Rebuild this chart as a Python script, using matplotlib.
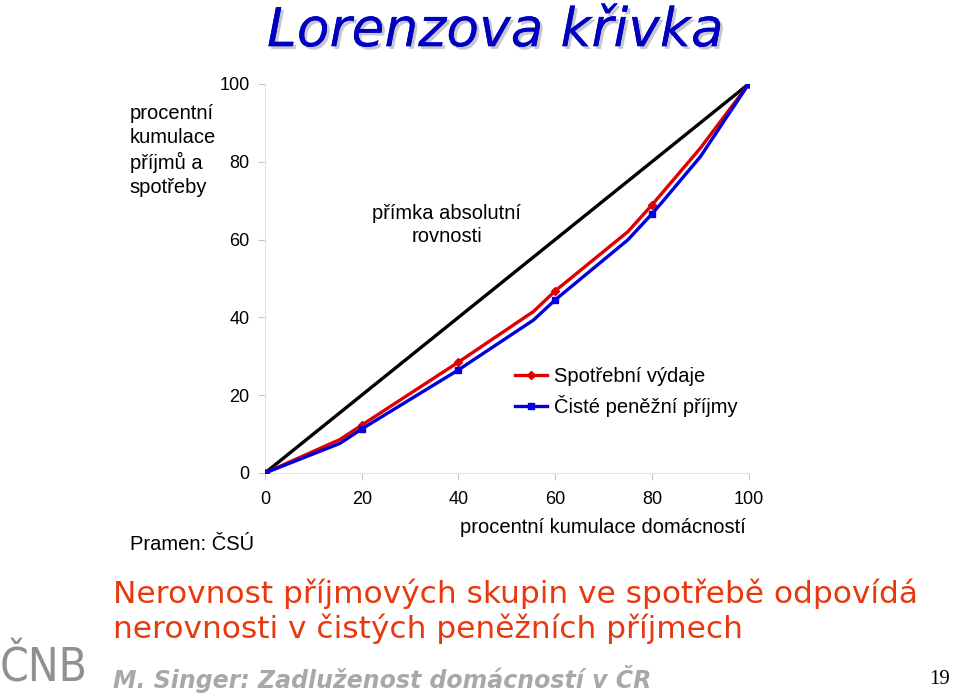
import matplotlib.pyplot as plt
from matplotlib import patheffects as pe

# Lorenz curve data (percent cumulation)
equal_x = [0, 100]
equal_y = [0, 100]

spend_x = [0, 15.5, 20, 40, 55.5, 60, 75, 80, 90, 100]
spend_y = [0, 8.6, 12.3, 28.5, 41.5, 46.8, 62.0, 68.9, 83.5, 100]

income_x = [0, 15.5, 20, 40, 55.5, 60, 75, 80, 82.5, 90, 100]
income_y = [0, 7.6, 11.3, 26.5, 39.3, 44.5, 59.9, 66.6, 70.2, 81.3, 100]

marked = [0, 20, 40, 60, 80, 100]
ticks = [0, 20, 40, 60, 80, 100]

plt.rcParams['font.family'] = ['Liberation Sans', 'DejaVu Sans']

fig = plt.figure(figsize=(9.6, 6.93), dpi=100)
ax = fig.add_axes([0.276, 0.3175, 0.504, 0.5615])

ax.plot(equal_x, equal_y, color='black', lw=2.4, zorder=2)
ax.plot(spend_x, spend_y, color='#e00000', lw=2.4, marker='D', ms=4.5,
        markevery=[i for i, v in enumerate(spend_x) if v in marked],
        label='Spotřební výdaje', zorder=3)
ax.plot(income_x, income_y, color='#0000e0', lw=2.4, marker='s', ms=4.5,
        markevery=[i for i, v in enumerate(income_x) if v in marked],
        label='Čisté peněžní příjmy', zorder=3)

ax.set_xlim(0, 100)
ax.set_ylim(0, 100)
ax.set_xticks(ticks)
ax.set_yticks(ticks)
ax.tick_params(labelsize=13, colors='#c8c8c8', labelcolor='black', length=5)
ax.tick_params(axis='y', pad=6)
ax.tick_params(axis='x', pad=8)
for s in ['top', 'right']:
    ax.spines[s].set_visible(False)
for s in ['left', 'bottom']:
    ax.spines[s].set_color('#e4e4e4')
    ax.spines[s].set_linewidth(0.8)

ax.text(37.6, 63.8, 'přímka absolutní\nrovnosti', ha='center', va='center',
        fontsize=14.5, linespacing=1.25)

leg = ax.legend(loc='upper left', bbox_to_anchor=(0.5, 0.293), frameon=False,
                fontsize=14.5, handlelength=1.6, handletextpad=0.35,
                borderaxespad=0, labelspacing=0.45)

fig.text(0.628, 0.2395, 'procentní kumulace domácností', ha='center',
         va='center', fontsize=14.5)
fig.text(0.135, 0.85, 'procentní\nkumulace\npříjmů a\nspotřeby', ha='left',
         va='top', fontsize=14.5, linespacing=1.32)
fig.text(0.135, 0.2136, 'Pramen: ČSÚ', ha='left', va='center', fontsize=14.5)

# slide title and comments
fig.text(0.516, 0.955, 'Lorenzova křivka', ha='center', va='center',
         fontsize=38.5, color='#0000c0', style='italic', family='DejaVu Sans',
         path_effects=[pe.withSimplePatchShadow(offset=(2, -2), shadow_rgbFace='#b0b0c0', alpha=0.7),
                       pe.Normal()])
fig.text(0.118, 0.118, 'Nerovnost příjmových skupin ve spotřebě odpovídá\nnerovnosti v čistých peněžních příjmech',
         ha='left', va='center', fontsize=22.5, color='#e8380d',
         family='DejaVu Sans', linespacing=1.15)
fig.text(0.118, 0.02, 'M. Singer: Zadluženost domácností v ČR', ha='left',
         va='center', fontsize=17, color='#a8a8a8', style='italic',
         weight='bold', family='DejaVu Sans')
fig.text(0.0, 0.035, 'ČNB', ha='left', va='center', fontsize=33,
         color='#909090', family='DejaVu Sans', stretch='condensed')
fig.text(0.99, 0.02, '19', ha='right', va='center', fontsize=15,
         family='Liberation Serif')

fig.savefig('out.png', dpi=100)
